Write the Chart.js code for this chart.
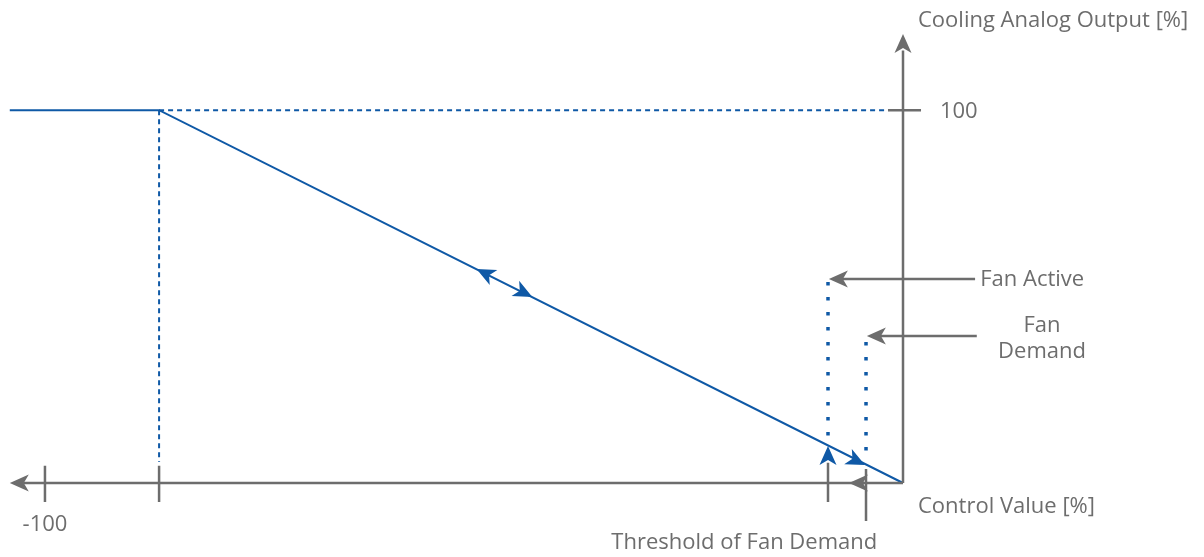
<!DOCTYPE html>
<html>
<head>
<meta charset="utf-8">
<script src="https://cdn.jsdelivr.net/npm/chart.js@4"></script>
<style>
html, body { margin: 0; padding: 0; background: #fff; }
#wrap { width: 1204px; height: 557px; }
</style>
</head>
<body>
<div id="wrap"><canvas id="myChart"></canvas></div>
<script>
var GRAY = '#6d6d6d';
var BLUE = '#0f59a6';

// control value (x) -> cooling analog output (y)
var curveX = [-104.1, -86.7, 0];
var curveY = [100, 100, 0];

var satX = -86.7;         // output reaches 100 here
var fanActiveX = -8.74;   // fan active threshold
var fanDemandX = -4.31;   // fan demand threshold
var tickLabelsX = ['-100'];
var tickValuesX = [-100];
var tickLabelsY = ['100'];
var tickValuesY = [100];

// arrow heads: tip position and direction (deg, 0 = pointing right, clockwise)
var arrowX   = [0, -104.1, fanActiveX + 0.1, fanDemandX + 0.1, fanActiveX, -4.43, -6.3, -49.7, -43.2];
var arrowY   = [120.4, 0, 54.7, 39.4, 9.9, 4.8, 0, 57.4, 49.9];
var arrowDir = [-90, 180, 180, 180, -90, 26.6, 180, 206.6, 26.6];
var arrowBlue = [false, false, false, false, true, true, false, true, true];

// text labels in data units
var labelText = ['Cooling Analog Output [%]', 'Control Value [%]', 'Threshold of Fan Demand', 'Fan Active', 'Fan', 'Demand'];
var labelX = [1.75, 1.75, -18.5, 9.0, 16.2, 16.2];
var labelY = [123.9, -6.4, -16.0, 54.4, 42.1, 35.2];
var labelAlign = ['left', 'left', 'center', 'left', 'center', 'center'];

function seg(x1, y1, x2, y2) {
    return [{x: x1, y: y1}, {x: x2, y: y2}];
}

function line(data, color, width, dash) {
    return {
        data: data,
        borderColor: color,
        borderWidth: width,
        borderDash: dash || [],
        borderCapStyle: 'butt',
        pointRadius: 0,
        showLine: true,
        fill: false
    };
}

var curve = curveX.map(function(v, i) { return {x: v, y: curveY[i]}; });

var datasets = [
    // axes
    line(seg(0, 0, -102.5, 0), GRAY, 2.5),
    line(seg(0, 0, 0, 116), GRAY, 2.5),
    // ticks
    line(seg(tickValuesX[0], 4.6, tickValuesX[0], -5.1), GRAY, 2.5),
    line(seg(satX, 4.6, satX, -5.1), GRAY, 2.5),
    line(seg(-1.75, tickValuesY[0], 2.1, tickValuesY[0]), GRAY, 2.5),
    // fan pointers
    line(seg(8.4, 54.7, fanActiveX + 1.5, 54.7), GRAY, 2.5),
    line(seg(8.6, 39.4, fanDemandX + 1.5, 39.4), GRAY, 2.5),
    line(seg(fanActiveX, 5.4, fanActiveX, -5.1), GRAY, 2.5),
    line(seg(fanDemandX, 3.75, fanDemandX, -10.2), GRAY, 2.5),
    // dashed guides
    line(seg(satX, 100, satX, 5.6), BLUE, 2, [5, 4]),
    line(seg(satX, 100, -1.75, 100), BLUE, 2, [5, 4]),
    // dotted thresholds
    line(seg(fanActiveX, 53.9, fanActiveX, 11.8), BLUE, 3.5, [3.5, 11.5]),
    line(seg(fanDemandX, 37.8, fanDemandX, 8.6), BLUE, 3.5, [3.5, 11.5]),
    // output curve
    line(curve, BLUE, 2)
];

var drawExtras = {
    id: 'drawExtras',
    afterDatasetsDraw: function(chart) {
        var ctx = chart.ctx;
        var xs = chart.scales.x, ys = chart.scales.y;
        ctx.save();
        for (var i = 0; i < arrowX.length; i++) {
            var px = xs.getPixelForValue(arrowX[i]);
            var py = ys.getPixelForValue(arrowY[i]);
            ctx.save();
            ctx.translate(px, py);
            ctx.rotate(arrowDir[i] * Math.PI / 180);
            ctx.beginPath();
            ctx.moveTo(0, 0);
            ctx.lineTo(-19, -8.5);
            ctx.lineTo(-14, 0);
            ctx.lineTo(-19, 8.5);
            ctx.closePath();
            ctx.fillStyle = arrowBlue[i] ? BLUE : GRAY;
            ctx.fill();
            ctx.restore();
        }
        ctx.fillStyle = GRAY;
        ctx.font = '22px "Open Sans"';
        ctx.textBaseline = 'middle';
        for (var j = 0; j < labelText.length; j++) {
            ctx.textAlign = labelAlign[j];
            ctx.fillText(labelText[j], xs.getPixelForValue(labelX[j]), ys.getPixelForValue(labelY[j]));
        }
        ctx.textAlign = 'center';
        ctx.fillText(tickLabelsX[0], xs.getPixelForValue(tickValuesX[0]), ys.getPixelForValue(-11.2));
        ctx.textAlign = 'left';
        ctx.fillText(tickLabelsY[0], xs.getPixelForValue(4.3), ys.getPixelForValue(tickValuesY[0] - 0.5));
        ctx.restore();
    }
};

new Chart('myChart', {
    type: 'scatter',
    data: { datasets: datasets },
    options: {
        responsive: true,
        maintainAspectRatio: false,
        animation: false,
        layout: { padding: 0 },
        plugins: { legend: { display: false }, tooltip: { enabled: false } },
        scales: {
            x: { type: 'linear', min: -105.24, max: 35.08, display: false },
            y: { type: 'linear', min: -19.85, max: 129.55, display: false }
        }
    },
    plugins: [drawExtras]
});
</script>
</body>
</html>
